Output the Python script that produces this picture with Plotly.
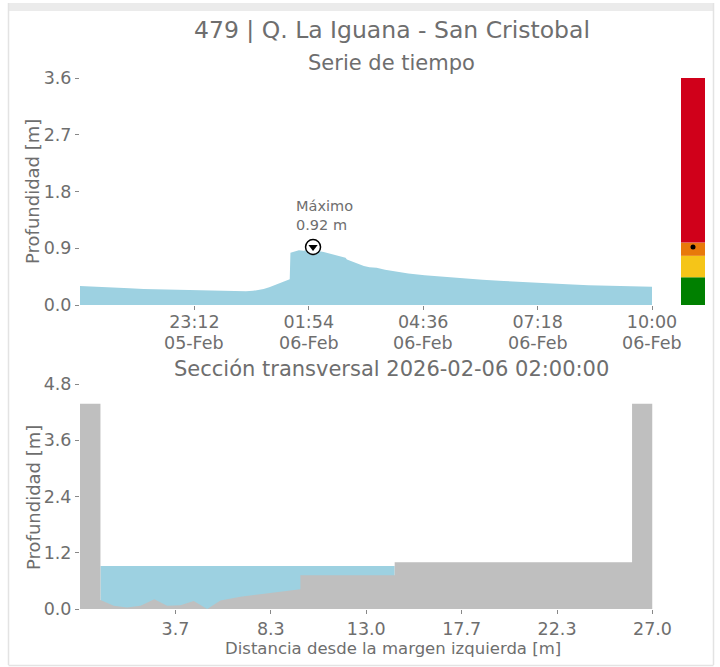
import plotly.graph_objects as go

W, H = 720, 667
FONT = "DejaVu Sans"
TXT = "#6e6e6e"
WATER = "#9dd1e1"
GROUND = "#bfbfbf"

# ---------------- data ----------------
times = [
    "2026-02-05 20:30", "2026-02-05 20:45", "2026-02-05 21:00", "2026-02-05 21:20",
    "2026-02-05 21:40", "2026-02-05 22:00", "2026-02-05 22:20", "2026-02-05 22:45",
    "2026-02-05 23:10", "2026-02-05 23:40", "2026-02-06 00:05", "2026-02-06 00:25",
    "2026-02-06 00:35", "2026-02-06 00:42", "2026-02-06 00:50", "2026-02-06 00:58",
    "2026-02-06 01:05", "2026-02-06 01:12", "2026-02-06 01:18", "2026-02-06 01:24",
    "2026-02-06 01:27", "2026-02-06 01:28", "2026-02-06 01:33", "2026-02-06 01:40",
    "2026-02-06 01:47", "2026-02-06 01:54", "2026-02-06 02:00", "2026-02-06 02:06",
    "2026-02-06 02:15", "2026-02-06 02:25", "2026-02-06 02:35", "2026-02-06 02:46",
    "2026-02-06 02:47", "2026-02-06 02:48", "2026-02-06 02:55", "2026-02-06 03:03",
    "2026-02-06 03:12", "2026-02-06 03:20", "2026-02-06 03:30", "2026-02-06 03:42",
    "2026-02-06 03:56", "2026-02-06 04:15", "2026-02-06 04:38", "2026-02-06 05:00",
    "2026-02-06 05:30", "2026-02-06 06:00", "2026-02-06 06:30", "2026-02-06 07:00",
    "2026-02-06 07:30", "2026-02-06 08:00", "2026-02-06 08:30", "2026-02-06 09:00",
    "2026-02-06 09:30", "2026-02-06 10:00",
]
depth = [
    0.30, 0.29, 0.285, 0.275,
    0.265, 0.255, 0.25, 0.24,
    0.235, 0.225, 0.22, 0.22,
    0.225, 0.235, 0.255, 0.28,
    0.31, 0.34, 0.37, 0.40,
    0.41, 0.83, 0.85, 0.87,
    0.86, 0.88, 0.92, 0.86,
    0.84, 0.81, 0.78, 0.75,
    None, 0.72, 0.69, 0.65,
    0.62, 0.60, 0.59, 0.56,
    0.53, 0.50, 0.47, 0.45,
    0.42, 0.40, 0.38, 0.36,
    0.345, 0.33, 0.315, 0.305,
    0.295, 0.29,
]
time_ticks = ["2026-02-05 23:12", "2026-02-06 01:54", "2026-02-06 04:36",
              "2026-02-06 07:18", "2026-02-06 10:00"]
time_labels = ["23:12", "01:54", "04:36", "07:18", "10:00"]
date_labels = ["05-Feb", "06-Feb", "06-Feb", "06-Feb", "06-Feb"]
depth_ticks = [0.0, 0.9, 1.8, 2.7, 3.6]

# alert levels (bar on the right)
level_bounds = [0.0, 0.44, 0.78, 0.99, 3.6]
level_colors = ["#008000", "#f5c518", "#e8790a", "#d0001a"]

# cross section
dist = [-1, 0, 0, 0.65, 1.3, 1.96, 2.64, 3.26, 3.91, 4.56, 5.22, 5.87, 6.85,
        9.78, 9.78, 14.39, 14.39, 26, 26, 27]
bed = [4.38, 4.38, 0.19, 0.07, 0.03, 0.07, 0.21, 0.07, 0.08, 0.17, 0.0, 0.18, 0.26,
       0.42, 0.72, 0.72, 1.0, 1.0, 4.38, 4.38]
water_x = [0, 14.39]
dist_ticks = [3.667, 8.333, 13.0, 17.667, 22.333, 27.0]
section_depth_ticks = [0.0, 1.2, 2.4, 3.6, 4.8]

vals = [d for d in depth if d is not None]
max_val = max(vals)
max_time = times[depth.index(max_val)]


def px(x):
    return x / W


def py(y):
    return (H - y) / H


fig = go.Figure()

# time series
fig.add_trace(go.Scatter(x=times, y=depth, mode="lines", fill="tozeroy",
                         line=dict(color=WATER, width=0), fillcolor=WATER,
                         connectgaps=False, xaxis="x", yaxis="y", hoverinfo="skip"))
fig.add_trace(go.Scatter(x=[max_time], y=[max_val], mode="markers",
                         marker=dict(symbol="circle", size=15, color="white",
                                     line=dict(color="black", width=1.5)),
                         xaxis="x", yaxis="y"))
fig.add_trace(go.Scatter(x=[max_time], y=[max_val], mode="markers",
                         marker=dict(symbol="triangle-down", size=8, color="black"),
                         xaxis="x", yaxis="y"))

# alert bar
for lo, hi, c in zip(level_bounds[:-1], level_bounds[1:], level_colors):
    fig.add_trace(go.Bar(x=[0], y=[hi - lo], base=[lo], width=1,
                         marker=dict(color=c, line=dict(width=0)),
                         xaxis="x2", yaxis="y2"))
fig.add_trace(go.Scatter(x=[0], y=[max_val], mode="markers",
                         marker=dict(size=5, color="black"), xaxis="x2", yaxis="y2"))

# cross section
fig.add_trace(go.Scatter(x=water_x, y=[max_val, max_val], mode="lines", fill="tozeroy",
                         line=dict(color=WATER, width=0), fillcolor=WATER,
                         xaxis="x3", yaxis="y3"))
fig.add_trace(go.Scatter(x=dist, y=bed, mode="lines", fill="tozeroy",
                         line=dict(color=GROUND, width=0), fillcolor=GROUND,
                         xaxis="x3", yaxis="y3"))

TICK_SIZE = 17.5
tickfont = dict(family=FONT, size=TICK_SIZE, color=TXT)
common = dict(showgrid=False, zeroline=False, showline=False, ticks="outside",
              ticklen=4, tickwidth=1, tickcolor="#888888", tickfont=tickfont,
              automargin=False)

fig.update_layout(
    template="none",
    width=W, height=H, autosize=False,
    margin=dict(l=0, r=0, t=0, b=0, pad=0, autoexpand=False),
    paper_bgcolor="white", plot_bgcolor="white", showlegend=False, barmode="overlay",
    font=dict(family=FONT, color=TXT),
    xaxis=dict(domain=[px(80), px(652)], anchor="y", type="date",
               range=[times[0], times[-1]], tickvals=time_ticks, ticktext=time_labels,
               ticklabelstandoff=-3, **common),
    yaxis=dict(domain=[py(305), py(78)], anchor="x", range=[0, 3.6],
               tickvals=depth_ticks, ticktext=[f"{v:.1f}" for v in depth_ticks], **common),
    xaxis2=dict(domain=[px(681), px(705)], anchor="y2", range=[-0.5, 0.5], visible=False,
                automargin=False),
    yaxis2=dict(domain=[py(305), py(78)], anchor="x2", range=[0, 3.6], visible=False,
                automargin=False),
    xaxis3=dict(domain=[px(80), px(652.5)], anchor="y3", range=[-1, 27],
                tickvals=dist_ticks, ticktext=[f"{v:.1f}" for v in dist_ticks], **common),
    yaxis3=dict(domain=[py(609), py(384)], anchor="x3", range=[0, 4.8],
                tickvals=section_depth_ticks,
                ticktext=[f"{v:.1f}" for v in section_depth_ticks], **common),
)

# second line of the time tick labels (tighter line spacing than plotly's <br>)
for t, d in zip(time_ticks, date_labels):
    fig.add_annotation(text=d, x=t, y=py(343), xref="x", yref="paper",
                       xanchor="center", yanchor="middle", showarrow=False,
                       font=dict(family=FONT, size=TICK_SIZE, color=TXT))

ann = [
    dict(text="479 | Q. La Iguana - San Cristobal", x=px(392), y=py(30), size=23.5),
    dict(text="Serie de tiempo", x=px(392), y=py(63), size=21),
    dict(text="Sección transversal 2026-02-06 02:00:00", x=px(392), y=py(369), size=21),
    dict(text="Distancia desde la margen izquierda [m]", x=px(393), y=py(648), size=16.5),
]
for a in ann:
    fig.add_annotation(text=a["text"], x=a["x"], y=a["y"], xref="paper", yref="paper",
                       xanchor="center", yanchor="middle", showarrow=False,
                       font=dict(family=FONT, size=a["size"], color=TXT))
for yc in (192, 498):
    fig.add_annotation(text="Profundidad [m]", x=px(33), y=py(yc), xref="paper", yref="paper",
                       textangle=-90, xanchor="center", yanchor="middle", showarrow=False,
                       font=dict(family=FONT, size=18, color=TXT))
fig.add_annotation(text="Máximo<br>0.92 m", x=max_time, y=max_val, xref="x", yref="y",
                   xanchor="left", yanchor="bottom", align="left", xshift=-19, yshift=12,
                   showarrow=False, font=dict(family=FONT, size=14.5, color=TXT))

# page frame
fig.add_shape(type="rect", xref="paper", yref="paper", x0=px(8), x1=px(714), y0=py(11), y1=py(3),
              fillcolor="#ebebeb", line=dict(width=0), layer="below")
for (x0, y0, x1, y1) in [(8.5, 3, 8.5, 665), (713.5, 3, 713.5, 665), (8.5, 665.5, 713.5, 665.5)]:
    fig.add_shape(type="line", xref="paper", yref="paper", x0=px(x0), y0=py(y0), x1=px(x1), y1=py(y1),
                  line=dict(color="#e3e3e3", width=1.5))

fig.write_html(
    "out.html",
    config={"displayModeBar": False, "responsive": False},
    post_script="document.documentElement.style.overflow='hidden';"
                "document.body.style.margin='0';document.body.style.overflow='hidden';",
)
